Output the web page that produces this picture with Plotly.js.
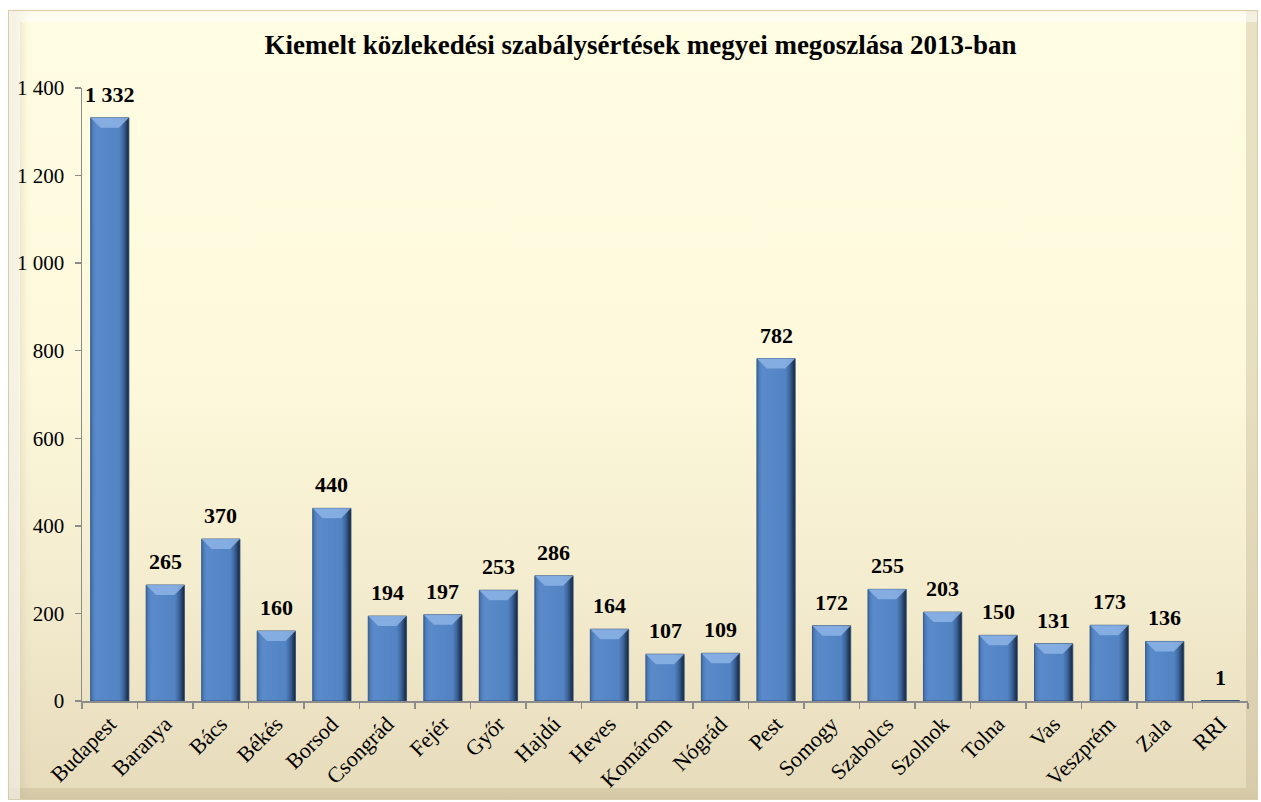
<!DOCTYPE html>
<html>
<head>
<meta charset="utf-8">
<script src="https://cdn.plot.ly/plotly-3.0.1.min.js"></script>
<style>
  html, body { margin: 0; padding: 0; background: #ffffff; width: 1261px; height: 802px; overflow: hidden; }
  #frame {
    position: absolute; left: 8px; top: 10px; width: 1250px; height: 790px;
    box-sizing: border-box;
    background: linear-gradient(to bottom, #FFFDE2 0%, #FEF9DD 45%, #F3EBCD 75%, #E6DBBB 100%);
    border: 1px solid #D8CCAA;
    box-shadow: inset 12px 12px 0 -1px rgba(255,255,255,0.55), inset -12px -12px 0 -1px rgba(190,175,140,0.35), inset 13px 0 10px rgba(170,150,110,0.25);
  }
  #chart { position: absolute; left: 0; top: 0; width: 1261px; height: 802px; }
</style>
</head>
<body>
<div id="frame"></div>
<div id="chart"></div>
<script>
const chartTitle = 'Kiemelt közlekedési szabálysértések megyei megoszlása 2013-ban';
const counties = ['Budapest','Baranya','Bács','Békés','Borsod','Csongrád','Fejér','Győr','Hajdú','Heves','Komárom','Nógrád','Pest','Somogy','Szabolcs','Szolnok','Tolna','Vas','Veszprém','Zala','RRI'];
const violations = [1332,265,370,160,440,194,197,253,286,164,107,109,782,172,255,203,150,131,173,136,1];
const yTickValues = [0,200,400,600,800,1000,1200,1400];

function fmt(v) {
  return String(v).replace(/\B(?=(\d{3})+(?!\d))/g, ' ');
}

const serif = '"Liberation Serif", "Times New Roman", serif';

const trace = {
  type: 'bar',
  x: counties,
  y: violations,
  width: 0.69,
  marker: { color: '#5286C6', line: { color: '#2B4A74', width: 0.8 } },
  hoverinfo: 'x+y'
};

const valueLabels = counties.map(function (c, i) {
  return {
    x: c, y: violations[i], xref: 'x', yref: 'y',
    text: '<b>' + fmt(violations[i]) + '</b>',
    showarrow: false, yanchor: 'bottom', xanchor: 'center',
    yshift: 9,
    font: { family: serif, size: 22, color: '#000000' }
  };
});

const layout = {
  width: 1261, height: 802,
  margin: { l: 82, r: 13, t: 88, b: 101, pad: 0 },
  paper_bgcolor: 'rgba(0,0,0,0)',
  plot_bgcolor: 'rgba(0,0,0,0)',
  font: { family: serif, size: 21, color: '#000000' },
  title: {
    text: '<b>' + chartTitle + '</b>',
    font: { family: serif, size: 27, color: '#000000' },
    x: 0.508, xanchor: 'center', y: 0.944, yanchor: 'middle'
  },
  showlegend: false,
  annotations: valueLabels,
  xaxis: {
    type: 'category',
    showgrid: false,
    showline: true, linecolor: '#8C8C8C', linewidth: 1.5,
    ticks: 'outside', tickson: 'boundaries', ticklen: 6, tickcolor: '#8C8C8C', tickwidth: 1.5,
    tickangle: -45,
    tickfont: { family: serif, size: 22, color: '#000000' },
    range: [-0.5, counties.length - 0.5],
    fixedrange: true
  },
  yaxis: {
    range: [0, 1400],
    tickvals: yTickValues,
    ticktext: yTickValues.map(fmt),
    showgrid: false,
    zeroline: false,
    showline: true, linecolor: '#8C8C8C', linewidth: 1.5,
    ticks: 'outside', ticklen: 6, tickcolor: '#8C8C8C', tickwidth: 1.5,
    ticklabelstandoff: 6,
    tickfont: { family: serif, size: 21, color: '#000000' },
    fixedrange: true
  }
};

Plotly.newPlot('chart', [trace], layout, { displayModeBar: false, staticPlot: true }).then(function (gd) {
  const svg = gd.querySelector('svg.main-svg');
  const NS = 'http://www.w3.org/2000/svg';
  let defs = svg.querySelector('defs');
  if (!defs) { defs = document.createElementNS(NS, 'defs'); svg.insertBefore(defs, svg.firstChild); }
  function grad(id, x2, y2, stops) {
    const g = document.createElementNS(NS, 'linearGradient');
    g.setAttribute('id', id);
    g.setAttribute('x1', '0'); g.setAttribute('y1', '0');
    g.setAttribute('x2', x2); g.setAttribute('y2', y2);
    stops.forEach(function (s) {
      const st = document.createElementNS(NS, 'stop');
      st.setAttribute('offset', s[0]);
      st.setAttribute('stop-color', s[1]);
      st.setAttribute('stop-opacity', s[2] === undefined ? 1 : s[2]);
      g.appendChild(st);
    });
    defs.appendChild(g);
  }
  grad('barH', '1', '0', [
    ['0', '#3E6AA3'], ['0.07', '#4F80C0'], ['0.14', '#5A8ACA'], ['0.75', '#5283C3'],
    ['0.86', '#3C649A'], ['0.94', '#243E62'], ['1', '#16263E']
  ]);
  const paths = gd.querySelectorAll('.barlayer .point path');
  paths.forEach(function (p) {
    p.style.fill = 'url(#barH)';
    const bb = p.getBBox();
    if (bb.height > 4) {
      const h = Math.min(10, bb.height / 2);
      const bev = document.createElementNS(NS, 'path');
      const x0 = bb.x, x1 = bb.x + bb.width, y0 = bb.y;
      const inset = Math.min(h, bb.width / 3);
      bev.setAttribute('d', 'M' + x0 + ',' + y0 + 'L' + x1 + ',' + y0 + 'L' + (x1 - inset) + ',' + (y0 + h) + 'L' + (x0 + inset) + ',' + (y0 + h) + 'Z');
      bev.setAttribute('fill', '#8DB4E6');
      bev.setAttribute('fill-opacity', '0.85');
      p.parentNode.insertBefore(bev, p.nextSibling);
    }
  });
});
</script>
</body>
</html>
